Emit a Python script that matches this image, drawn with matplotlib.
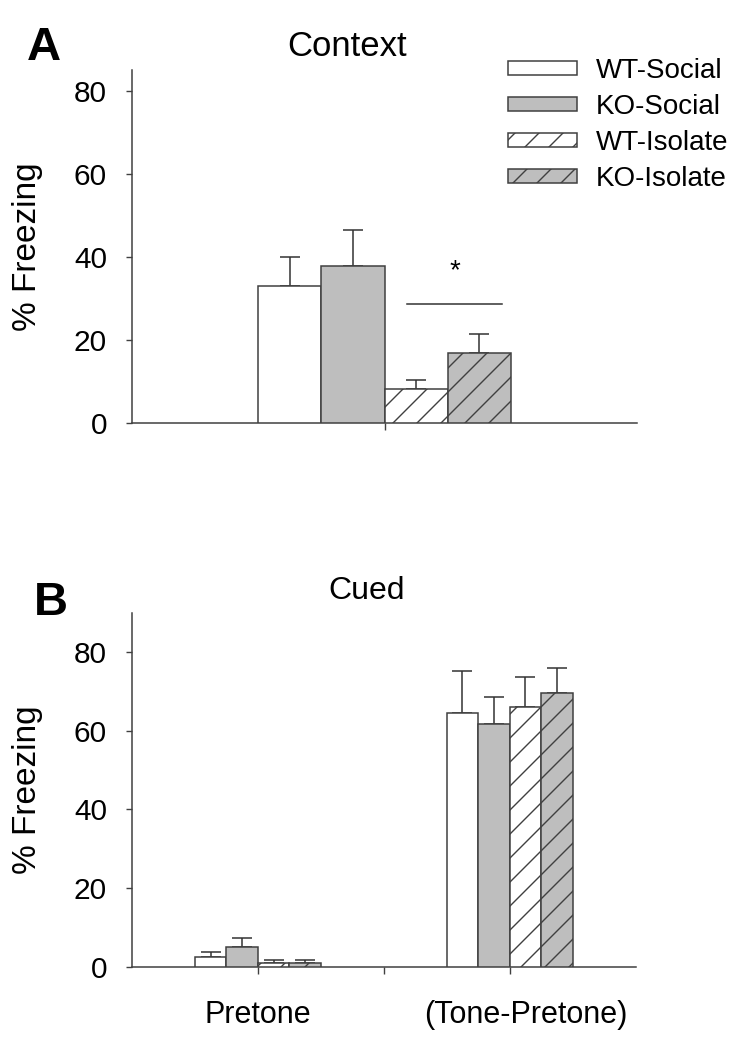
import matplotlib
matplotlib.use("Agg")
import matplotlib.pyplot as plt
import matplotlib.transforms as mtransforms

# figure is drawn at 72 dpi so the hatch spacing comes out like the original;
# sizes below are written as points at 100 dpi and scaled with S
S = 100 / 72.0

plt.rcParams['font.family'] = ['Liberation Sans', 'DejaVu Sans']
plt.rcParams['hatch.linewidth'] = 1.0 * S

# data
groups = ['WT-Social', 'KO-Social', 'WT-Isolate', 'KO-Isolate']
fills = ['white', '#bebebe', 'white', '#bebebe']
hatches = ['', '', '/', '/']

context_mean = [33.1, 37.8, 8.2, 16.9]
context_sem = [6.9, 8.8, 2.3, 4.5]

cued_labels = ['Pretone', '(Tone-Pretone)']
pretone_mean = [2.4, 4.9, 0.9, 0.9]
pretone_sem = [1.4, 2.3, 0.8, 0.8]
tone_mean = [64.5, 61.8, 66.0, 69.7]
tone_sem = [10.6, 6.8, 7.6, 6.4]

edge = '#404040'


def drawBars(ax, center, width, means, sems, legend=False):
    for i in range(len(groups)):
        x = center + (i - 1.5) * width
        ax.bar(x, means[i], width, color=fills[i], edgecolor=edge,
               linewidth=1.1 * S, hatch=hatches[i], zorder=3,
               label=groups[i] if legend else None)
        ax.errorbar(x, means[i], yerr=[[0], [sems[i]]], fmt='none',
                    ecolor='#333333', elinewidth=1.1 * S, capsize=7 * S,
                    capthick=1.1 * S, zorder=2)


def styleAxis(ax, top):
    for s in ['top', 'right']:
        ax.spines[s].set_visible(False)
    for s in ['left', 'bottom']:
        ax.spines[s].set_color(edge)
        ax.spines[s].set_linewidth(1.1 * S)
    ax.set_xlim(0, 4)
    ax.set_ylim(0, top)
    ax.set_yticks([0, 20, 40, 60, 80])
    ax.tick_params(axis='y', direction='out', length=4 * S, width=1.0 * S,
                   color=edge, labelsize=21.5 * S, pad=14 * S)
    ax.tick_params(axis='x', direction='out', length=5 * S, width=1.0 * S,
                   color=edge)
    ax.set_ylabel('% Freezing', fontsize=24 * S)
    ax.yaxis.set_label_coords(-0.176, 0.5)


fig = plt.figure(figsize=(754 / 72.0, 1050 / 72.0), dpi=72)

# panel A
axA = fig.add_axes([0.175, 0.597, 0.670, 0.336])
drawBars(axA, 2, 0.5, context_mean, context_sem, legend=True)
styleAxis(axA, 85)
axA.set_xticks([2])
axA.set_xticklabels([''])
axA.plot([2.18, 2.93], [28.7, 28.7], color='#333333', lw=1.1 * S)
axA.text(2.56, 36.6, '*', fontsize=20 * S, ha='center', va='center')
axA.text(0.426, 1.04, 'Context', transform=axA.transAxes, fontsize=25 * S,
         ha='center', va='baseline')
fig.text(44 / 754, 1 - 60 / 1050, 'A', fontsize=34 * S, fontweight='bold',
         ha='center', va='baseline')

leg = fig.legend(loc='upper left', bbox_to_anchor=(508 / 754, 1 - 58 / 1050),
                 frameon=False, fontsize=20 * S, handlelength=2.5,
                 handleheight=0.38, handletextpad=0.65, labelspacing=0.36,
                 borderpad=0, borderaxespad=0)

# panel B
axB = fig.add_axes([0.175, 0.0793, 0.668, 0.337])
drawBars(axB, 1, 0.25, pretone_mean, pretone_sem)
drawBars(axB, 3, 0.25, tone_mean, tone_sem)
styleAxis(axB, 90)
axB.set_xticks([1, 2, 3])
axB.set_xticklabels(['', '', ''])
trans = mtransforms.blended_transform_factory(axB.transData, axB.transAxes)
axB.text(1.0, -0.137, cued_labels[0], transform=trans, fontsize=22 * S,
         ha='center', va='center')
axB.text(3.13, -0.137, cued_labels[1], transform=trans, fontsize=22 * S,
         ha='center', va='center')
axB.text(0.466, 1.04, 'Cued', transform=axB.transAxes, fontsize=23 * S,
         ha='center', va='baseline')
fig.text(51 / 754, 1 - 615 / 1050, 'B', fontsize=34 * S, fontweight='bold',
         ha='center', va='baseline')

fig.savefig('out.png', dpi=72)
